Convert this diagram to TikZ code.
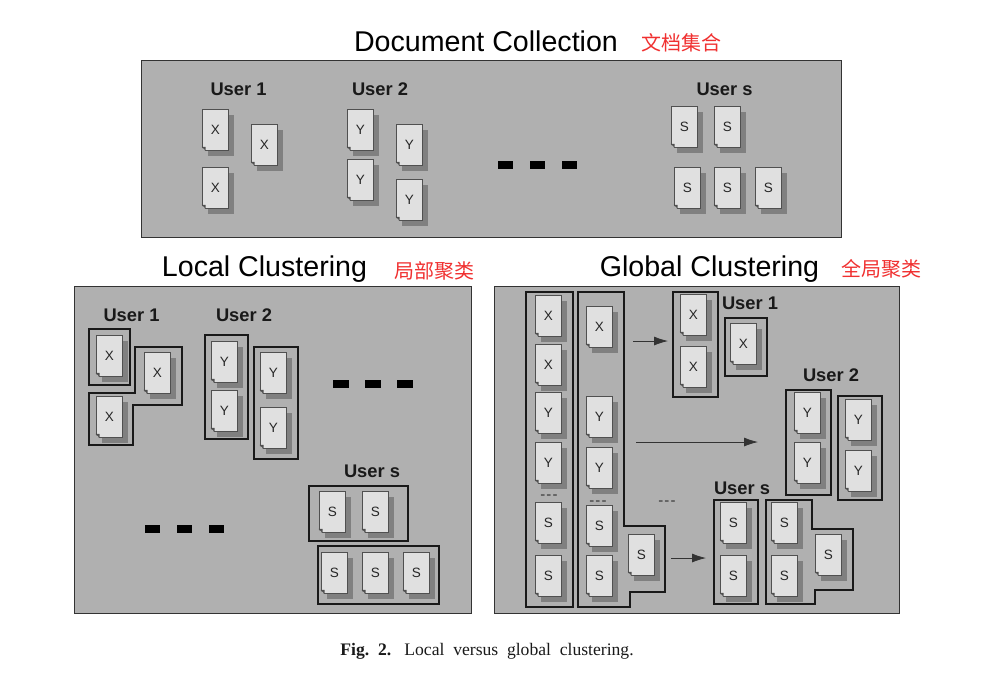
\documentclass[tikz,border=0pt]{standalone}
\usepackage{fontspec}
\setmainfont{Liberation Sans}
\newfontfamily\capfont{Liberation Serif}
\newfontfamily\cjkfont{Noto Sans CJK SC}
\usetikzlibrary{calc}
\usetikzlibrary{shadows}
\usetikzlibrary{arrows.meta}
\definecolor{panelgray}{HTML}{B0B0B0}
\definecolor{sheetgray}{HTML}{E0E0E0}
\definecolor{dropgray}{HTML}{808080}
\definecolor{edgegray}{HTML}{505050}
\definecolor{notered}{HTML}{F03030}
% one document sheet: name, x, y, letter
\newcommand{\docsheet}[4]{
    \node[doc sheet] (#1) at (#2+0.3,#3) {#4};
    \fill[panelgray] ($(#1.south west)+(-0.5,0.5)$) -- +(0,-4.5) -- +(4.5,0) -- cycle;
    \fill[edgegray] ($(#1.south west)+(0,-4)$) -- ++(4,4) -- ++(0,-4) -- cycle;
}
% three thick dashes, centre of the middle one
\newcommand{\bigdashes}[3]{
    \node[big dash] (#1a) at (#2-32,#3) {};
    \node[big dash] (#1b) at (#2,#3) {};
    \node[big dash] (#1c) at (#2+32,#3) {};
}
\begin{document}
\begin{tikzpicture}[
    x=1pt, y=-1pt,
    panel/.style={draw=black!80, fill=panelgray, line width=0.9pt},
    doc sheet/.style={draw=edgegray, fill=sheetgray, line width=0.8pt, inner sep=0pt,
        minimum width=26.5pt, minimum height=41pt, font=\fontsize{13.5}{15}\selectfont, text=black!85,
        general shadow={fill=dropgray, shadow xshift=5.5pt, shadow yshift=-5.5pt, draw=none}},
    big dash/.style={fill=black, inner sep=0pt, minimum width=15.5pt, minimum height=8.5pt},
    group line/.style={draw=black!90, line width=1.4pt},
    user label/.style={font=\fontsize{18.3}{20}\selectfont\bfseries, text=black!90, inner sep=0pt},
    panel title/.style={font=\fontsize{28.6}{30}\selectfont, inner sep=0pt},
    cjk note/.style={font=\cjkfont\fontsize{20}{22}\selectfont, text=notered, inner sep=0pt},
    small dots/.style={font=\fontsize{15}{15}\selectfont, text=black!80, inner sep=0pt},
    flow arrow/.style={draw=black!80, line width=0.8pt, -{Latex[length=14pt,width=9pt]}}
    ]
    \useasboundingbox (0,0) rectangle (995,682);

    % panels
    \draw[panel] (141,60) rectangle (841,237);
    \draw[panel] (74.5,286.5) rectangle (471,613);
    \draw[panel] (494,286.5) rectangle (899,613);

    % titles
    \node[panel title] (titleDoc) at (486,41) {Document Collection};
    \node[cjk note] (noteDoc) at (681,43) {文档集合};
    \node[panel title] (titleLocal) at (264.5,269) {Local Clustering};
    \node[cjk note] (noteLocal) at (434,271) {局部聚类};
    \node[panel title] (titleGlobal) at (709.5,269) {Global Clustering};
    \node[cjk note] (noteGlobal) at (881,269) {全局聚类};

    % document collection
    \node[user label] (topU1) at (238.5,89) {User 1};
    \node[user label] (topU2) at (380,89) {User 2};
    \node[user label] (topUs) at (724.5,89) {User s};
    \docsheet{topX1}{215}{130}{X}
    \docsheet{topX2}{264}{145}{X}
    \docsheet{topX3}{215}{188}{X}
    \docsheet{topY1}{360}{130}{Y}
    \docsheet{topY2}{409}{145}{Y}
    \docsheet{topY3}{360}{180}{Y}
    \docsheet{topY4}{409}{200}{Y}
    \docsheet{topS1}{684}{127}{S}
    \docsheet{topS2}{727}{127}{S}
    \docsheet{topS3}{687}{188}{S}
    \docsheet{topS4}{727}{188}{S}
    \docsheet{topS5}{768}{188}{S}
    \bigdashes{topDash}{537.5}{165}

    % local clustering, outlines
    \draw[group line] (89,329) rectangle (130,385);
    \draw[group line] (89,393) -- (135,393) -- (135,347) -- (182,347) -- (182,405) -- (133,405) -- (133,445) -- (89,445) -- cycle;
    \draw[group line] (205,335) rectangle (248,439);
    \draw[group line] (254,347) rectangle (298,459);
    \draw[group line] (309,486) rectangle (408,541);
    \draw[group line] (318,546) rectangle (439,604);
    % local clustering, sheets
    \node[user label] (locU1) at (131.5,315) {User 1};
    \node[user label] (locU2) at (244,315) {User 2};
    \node[user label] (locUs) at (372,471) {User s};
    \docsheet{locX1}{109}{356}{X}
    \docsheet{locX2}{157}{373}{X}
    \docsheet{locX3}{109}{417}{X}
    \docsheet{locY1}{224}{362}{Y}
    \docsheet{locY2}{224}{411}{Y}
    \docsheet{locY3}{273}{373}{Y}
    \docsheet{locY4}{273}{428}{Y}
    \docsheet{locS1}{332}{512}{S}
    \docsheet{locS2}{375}{512}{S}
    \docsheet{locS3}{334}{573}{S}
    \docsheet{locS4}{375}{573}{S}
    \docsheet{locS5}{416}{573}{S}
    \bigdashes{locDashA}{373}{384}
    \bigdashes{locDashB}{184.5}{529}

    % global clustering, outlines
    \draw[group line] (526,292) rectangle (573,607);
    \draw[group line] (578,292) -- (624,292) -- (624,526) -- (665,526) -- (665,592) -- (630,592) -- (630,607) -- (578,607) -- cycle;
    \draw[group line] (673,292) rectangle (718,397);
    \draw[group line] (725,318) rectangle (767,376);
    \draw[group line] (786,390) rectangle (831,495);
    \draw[group line] (838,396) rectangle (882,500);
    \draw[group line] (714,500) rectangle (758,604);
    \draw[group line] (766,500) -- (812,500) -- (812,529) -- (853,529) -- (853,590) -- (815,590) -- (815,604) -- (766,604) -- cycle;
    % global clustering, sheets
    \node[user label] (gloU1) at (750,303) {User 1};
    \node[user label] (gloU2) at (831,375) {User 2};
    \node[user label] (gloUs) at (742,488) {User s};
    \docsheet{gloA1}{548}{316}{X}
    \docsheet{gloA2}{548}{365}{X}
    \docsheet{gloA3}{548}{413}{Y}
    \docsheet{gloA4}{548}{463}{Y}
    \docsheet{gloA5}{548}{523}{S}
    \docsheet{gloA6}{548}{576}{S}
    \docsheet{gloB1}{599}{327}{X}
    \docsheet{gloB2}{599}{417}{Y}
    \docsheet{gloB3}{599}{468}{Y}
    \docsheet{gloB4}{599}{526}{S}
    \docsheet{gloB5}{599}{576}{S}
    \docsheet{gloB6}{641}{555}{S}
    \docsheet{gloC1}{693}{315}{X}
    \docsheet{gloC2}{693}{367}{X}
    \docsheet{gloC3}{743}{344}{X}
    \docsheet{gloD1}{807}{413}{Y}
    \docsheet{gloD2}{807}{463}{Y}
    \docsheet{gloD3}{858}{420}{Y}
    \docsheet{gloD4}{858}{471}{Y}
    \docsheet{gloE1}{733}{523}{S}
    \docsheet{gloE2}{733}{576}{S}
    \docsheet{gloE3}{784}{523}{S}
    \docsheet{gloE4}{784}{576}{S}
    \docsheet{gloE5}{828}{555}{S}
    \node[small dots] (dotsA) at (549,497) {-\kern1.2pt-\kern1.2pt-};
    \node[small dots] (dotsB) at (598,503) {-\kern1.2pt-\kern1.2pt-};
    \node[small dots] (dotsC) at (667,503) {-\kern1.2pt-\kern1.2pt-};

    % arrows
    \coordinate (arrowAs) at (633,341);
    \coordinate (arrowAe) at (668,341);
    \coordinate (arrowBs) at (636,442);
    \coordinate (arrowBe) at (758,442);
    \coordinate (arrowCs) at (671,558);
    \coordinate (arrowCe) at (706,558);
    \draw[flow arrow] (arrowAs) -- (arrowAe);
    \draw[flow arrow] (arrowBs) -- (arrowBe);
    \draw[flow arrow] (arrowCs) -- (arrowCe);

    % caption
    \node[font=\capfont\fontsize{17.6}{19}\selectfont, inner sep=0pt, text=black!90] (figCaption) at (487,651)
        {\textbf{Fig.\ \ 2.}\ \ \ Local\ \ versus\ \ global\ \ clustering.};
\end{tikzpicture}
\end{document}
